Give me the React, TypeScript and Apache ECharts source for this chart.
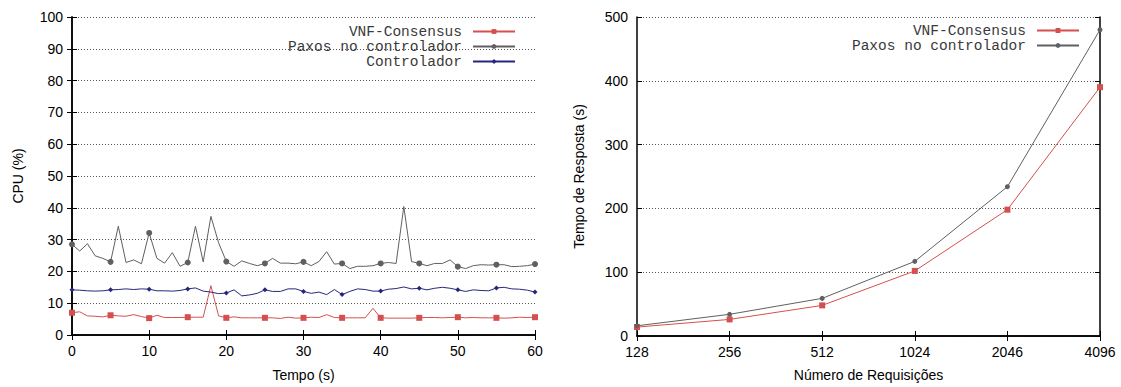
import React, { useEffect, useRef } from "react";
import * as echarts from "echarts";

// ---- Left chart: CPU (%) over time (s), one sample per second 0..60 ----
const vnfCpu = [
  7.0, 7.3, 6.0, 5.9, 5.7, 6.2, 6.0, 5.9, 6.4, 5.8, 5.3, 6.2,
  5.5, 5.5, 5.5, 5.6, 5.6, 5.6, 15.5, 6.0, 5.4, 5.7, 5.4, 5.4,
  5.4, 5.4, 5.4, 5.2, 5.6, 5.3, 5.4, 5.6, 5.5, 6.4, 5.5, 5.4,
  5.4, 5.4, 5.4, 8.4, 5.4, 5.3, 5.3, 5.3, 5.3, 5.4, 5.5, 5.5,
  5.4, 5.5, 5.6, 5.4, 5.5, 5.4, 5.4, 5.4, 5.3, 5.4, 5.6, 5.5, 5.6,
];
const paxosCpu = [
  28.5, 26.4, 28.7, 24.9, 24.1, 23.0, 34.2, 22.8, 23.6, 22.4, 32.1, 24.1,
  22.6, 25.9, 21.6, 22.8, 34.2, 23.0, 37.3, 29.0, 23.1, 21.6, 23.3, 22.5,
  21.8, 22.5, 24.1, 22.6, 22.6, 22.4, 23.0, 21.8, 23.1, 26.2, 22.3, 22.5,
  20.9, 21.6, 21.6, 21.8, 22.5, 22.8, 22.5, 40.4, 23.1, 22.5, 21.8, 22.5,
  22.5, 23.6, 21.5, 20.9, 21.8, 22.1, 22.0, 22.1, 22.1, 21.5, 21.6, 21.8, 22.3,
];
const controllerCpu = [
  14.2, 14.1, 13.9, 13.8, 13.9, 14.2, 14.3, 14.5, 14.3, 14.5, 14.4, 13.9,
  13.9, 13.8, 14.0, 14.5, 14.8, 13.8, 13.5, 13.0, 13.2, 14.2, 12.3, 12.6,
  13.1, 14.2, 13.7, 13.7, 14.5, 14.5, 13.7, 13.1, 13.5, 12.7, 14.3, 12.7,
  13.7, 14.5, 14.3, 13.8, 13.8, 14.4, 14.6, 15.1, 14.5, 14.7, 14.2, 14.7,
  15.0, 14.7, 14.2, 13.7, 14.2, 14.0, 13.9, 14.8, 15.0, 14.5, 14.4, 14.1, 13.5,
];

// ---- Right chart: response time (s) vs number of requests ----
const requestCategories = ["128", "256", "512", "1024", "2046", "4096"];
const vnfResponse = [14, 26, 48, 102, 198, 390];
const paxosResponse = [16, 34, 59, 117, 234, 480];

const NAME_VNF = "VNF-Consensus";
const NAME_PAXOS = "Paxos no controlador";
const NAME_CTRL = "Controlador";

const RED = "#d4504f";
const GRAY = "#606060";
const BLUE = "#26267e";

export default function App() {
  const ref = useRef<HTMLDivElement>(null);

  useEffect(() => {
    if (!ref.current) return;
    const chart = echarts.init(ref.current, undefined, { renderer: "svg" });

    const sans = "'Liberation Sans', Arial, Helvetica, sans-serif";
    const mono = "'Liberation Mono', 'Courier New', monospace";
    const frameLine = { show: true, lineStyle: { color: "#000", width: 1.5 } };
    const innerTick = { show: true, inside: true, length: 5, lineStyle: { color: "#000", width: 1 } };
    const tickLabel = { fontFamily: sans, fontSize: 14, color: "#000", margin: 9 };
    const nameText = { fontFamily: sans, fontSize: 14, color: "#000" };
    const dotted = { show: true, lineStyle: { color: "#555", width: 1, type: [1, 2] as any } };
    const every5 = (_v: any, p: any) => (p.dataIndex % 5 === 0 ? 6 : 0);
    const legendText = {
      fontFamily: mono, fontSize: 14.5, lineHeight: 15, color: "#3a3a3a", padding: [0, 6, 0, 0],
    };

    const option: any = {
      animation: false,
      backgroundColor: "#fff",
      grid: [
        { left: 72, right: 586, top: 17, bottom: 48.5, containLabel: false },
        { left: 637, right: 21, top: 17, bottom: 48.5, containLabel: false },
      ],
      legend: [
        {
          data: [NAME_VNF, NAME_PAXOS, NAME_CTRL],
          orient: "vertical",
          align: "right",
          right: 605,
          top: 24,
          padding: 0,
          itemGap: 0,
          itemWidth: 42,
          itemHeight: 6,
          textStyle: legendText,
        },
        {
          data: [NAME_VNF + " ", NAME_PAXOS + " "],
          orient: "vertical",
          align: "right",
          right: 41,
          top: 23,
          padding: 0,
          itemGap: 0,
          itemWidth: 42,
          itemHeight: 6,
          textStyle: legendText,
          formatter: (n: string) => n.trim(),
        },
      ],
      xAxis: [
        {
          gridIndex: 0, type: "value", min: 0, max: 60, interval: 10,
          axisLine: frameLine, axisTick: innerTick, axisLabel: tickLabel, splitLine: { show: false },
          name: "Tempo (s)", nameLocation: "middle", nameGap: 33, nameTextStyle: nameText,
        },
        {
          gridIndex: 0, type: "value", min: 0, max: 60, interval: 10, position: "top",
          axisLine: frameLine, axisTick: innerTick, axisLabel: { show: false }, splitLine: { show: false },
        },
        {
          gridIndex: 1, type: "category", data: requestCategories, boundaryGap: false,
          axisLine: frameLine, axisTick: innerTick, axisLabel: tickLabel, splitLine: { show: false },
          name: "Número de Requisições", nameLocation: "middle", nameGap: 32, nameTextStyle: nameText,
        },
        {
          gridIndex: 1, type: "category", data: requestCategories, boundaryGap: false, position: "top",
          axisLine: frameLine, axisTick: innerTick, axisLabel: { show: false }, splitLine: { show: false },
        },
      ],
      yAxis: [
        {
          gridIndex: 0, type: "value", min: 0, max: 100, interval: 10,
          axisLine: frameLine, axisTick: innerTick, axisLabel: tickLabel, splitLine: dotted,
          name: "CPU (%)", nameLocation: "middle", nameGap: 47, nameTextStyle: nameText,
        },
        {
          gridIndex: 0, type: "value", min: 0, max: 100, interval: 10, position: "right",
          axisLine: frameLine, axisTick: innerTick, axisLabel: { show: false }, splitLine: { show: false },
        },
        {
          gridIndex: 1, type: "value", min: 0, max: 500, interval: 100,
          axisLine: frameLine, axisTick: innerTick, axisLabel: tickLabel, splitLine: dotted,
          name: "Tempo de Resposta (s)", nameLocation: "middle", nameGap: 51, nameTextStyle: nameText,
        },
        {
          gridIndex: 1, type: "value", min: 0, max: 500, interval: 100, position: "right",
          axisLine: frameLine, axisTick: innerTick, axisLabel: { show: false }, splitLine: { show: false },
        },
      ],
      series: [
        {
          name: NAME_VNF, type: "line", xAxisIndex: 0, yAxisIndex: 0,
          data: vnfCpu.map((v, i) => [i, v]),
          symbol: "rect", symbolSize: every5, showAllSymbol: true,
          lineStyle: { color: RED, width: 1 }, itemStyle: { color: RED },
        },
        {
          name: NAME_PAXOS, type: "line", xAxisIndex: 0, yAxisIndex: 0,
          data: paxosCpu.map((v, i) => [i, v]),
          symbol: "circle", symbolSize: every5, showAllSymbol: true,
          lineStyle: { color: GRAY, width: 1 }, itemStyle: { color: GRAY },
        },
        {
          name: NAME_CTRL, type: "line", xAxisIndex: 0, yAxisIndex: 0,
          data: controllerCpu.map((v, i) => [i, v]),
          symbol: "diamond", symbolSize: (_v: any, p: any) => (p.dataIndex % 5 === 0 ? 5 : 0), showAllSymbol: true,
          lineStyle: { color: BLUE, width: 1 }, itemStyle: { color: BLUE },
        },
        {
          name: NAME_VNF + " ", type: "line", xAxisIndex: 2, yAxisIndex: 2,
          data: vnfResponse,
          symbol: "rect", symbolSize: 6,
          lineStyle: { color: RED, width: 1 }, itemStyle: { color: RED },
        },
        {
          name: NAME_PAXOS + " ", type: "line", xAxisIndex: 2, yAxisIndex: 2,
          data: paxosResponse,
          symbol: "circle", symbolSize: 5,
          lineStyle: { color: GRAY, width: 1 }, itemStyle: { color: GRAY },
        },
      ],
    };

    chart.setOption(option);
    return () => chart.dispose();
  }, []);

  return (
    <div
      ref={ref}
      style={{ position: "absolute", left: 0, top: 0, width: 1121, height: 387, background: "#fff" }}
    />
  );
}
